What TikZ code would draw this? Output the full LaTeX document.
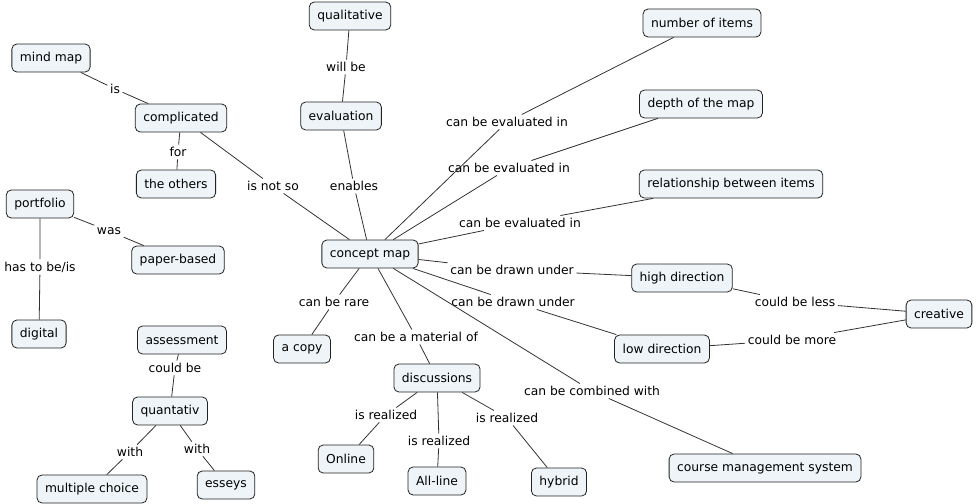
\documentclass[tikz,border=0pt]{standalone}
\usepackage{fontspec}
\setmainfont{DejaVu Sans}
\definecolor{boxfill}{HTML}{EEF4F7}
\definecolor{boxline}{HTML}{222222}
\definecolor{linkline}{HTML}{333333}
\begin{document}
\begin{tikzpicture}[x=1bp,y=-1bp,
  concept/.style={draw=boxline,fill=boxfill,rounded corners=5bp,line width=0.8bp,
    inner xsep=8bp,inner ysep=0bp,minimum height=28bp,yshift=-1bp,font=\fontsize{12.3bp}{14bp}\selectfont,text=black},
  lbl/.style={inner sep=2.5bp,yshift=-1bp,font=\fontsize{12.3bp}{14bp}\selectfont,text=black},
  link/.style={draw=linkline,line width=0.8bp}]
\useasboundingbox (0,0) rectangle (976,504);
% concepts
\node[concept] (mind) at (51,57) {mind map};
\node[concept] (compl) at (181,117) {complicated};
\node[concept] (others) at (176,183) {the others};
\node[concept] (portf) at (40,203) {portfolio};
\node[concept] (paper) at (178,259) {paper-based};
\node[concept] (digital) at (39,333) {digital};
\node[concept] (assess) at (182,339) {assessment};
\node[concept] (quant) at (170,410) {quantativ};
\node[concept] (multi) at (92,488) {multiple choice};
\node[concept] (essey) at (226,484) {esseys};
\node[concept] (qual) at (350,15) {qualitative};
\node[concept] (eval) at (341,115) {evaluation};
\node[concept] (cmap) at (370,253) {concept map};
\node[concept] (copy) at (302,348) {a copy};
\node[concept] (disc) at (437,377) {discussions};
\node[concept] (online) at (346,458) {Online};
\node[concept] (allline) at (437,480) {All-line};
\node[concept] (hybrid) at (559,481) {hybrid};
\node[concept] (number) at (702,22) {number of items};
\node[concept] (depth) at (701,103) {depth of the map};
\node[concept] (relat) at (731,183) {relationship between items};
\node[concept] (high) at (682,277) {high direction};
\node[concept] (low) at (662,348) {low direction};
\node[concept] (creat) at (939,313) {creative};
\node[concept] (cms) at (765,467) {course management system};
% labels
\node[lbl] (lis) at (115,88) {is};
\node[lbl] (lfor) at (178,151) {for};
\node[lbl] (lnotso) at (273,185) {is not so};
\node[lbl] (lwas) at (109,230) {was};
\node[lbl] (lhas) at (40,266) {has to be/is};
\node[lbl] (lcould) at (175,367) {could be};
\node[lbl] (lwith1) at (130,451) {with};
\node[lbl] (lwith2) at (197,448) {with};
\node[lbl] (lwill) at (346,66) {will be};
\node[lbl] (lenab) at (354,185) {enables};
\node[lbl] (lev1) at (507,121) {can be evaluated in};
\node[lbl] (lev2) at (509,167) {can be evaluated in};
\node[lbl] (lev3) at (520,222) {can be evaluated in};
\node[lbl] (ldr1) at (512,269) {can be drawn under};
\node[lbl] (ldr2) at (513,301) {can be drawn under};
\node[lbl] (lrare) at (334,301) {can be rare};
\node[lbl] (lmat) at (416,336) {can be a material of};
\node[lbl] (lcomb) at (592,390) {can be combined with};
\node[lbl] (lless) at (795,301) {could be less};
\node[lbl] (lmore) at (792,339) {could be more};
\node[lbl] (lreal1) at (386,414) {is realized};
\node[lbl] (lreal2) at (439,440) {is realized};
\node[lbl] (lreal3) at (507,417) {is realized};
% links
\draw[link] (mind) -- (lis) -- (compl);
\draw[link] (compl) -- (lfor) -- (others);
\draw[link] (compl) -- (lnotso) -- (cmap);
\draw[link] (portf) -- (lwas) -- (paper);
\draw[link] (portf) -- (lhas) -- (digital);
\draw[link] (assess) -- (lcould) -- (quant);
\draw[link] (quant) -- (lwith1) -- (multi);
\draw[link] (quant) -- (lwith2) -- (essey);
\draw[link] (qual) -- (lwill) -- (eval);
\draw[link] (eval) -- (lenab) -- (cmap);
\draw[link] (cmap) -- (lev1) -- (number);
\draw[link] (cmap) -- (lev2) -- (depth);
\draw[link] (cmap) -- (lev3) -- (relat);
\draw[link] (cmap) -- (ldr1) -- (high);
\draw[link] (cmap) -- (ldr2) -- (low);
\draw[link] (cmap) -- (lrare) -- (copy);
\draw[link] (cmap) -- (lmat) -- (disc);
\draw[link] (cmap) -- (lcomb) -- (cms);
\draw[link] (high) -- (lless) -- (creat);
\draw[link] (low) -- (lmore) -- (creat);
\draw[link] (disc) -- (lreal1) -- (online);
\draw[link] (disc) -- (lreal2) -- (allline);
\draw[link] (disc) -- (lreal3) -- (hybrid);
\end{tikzpicture}
\end{document}
